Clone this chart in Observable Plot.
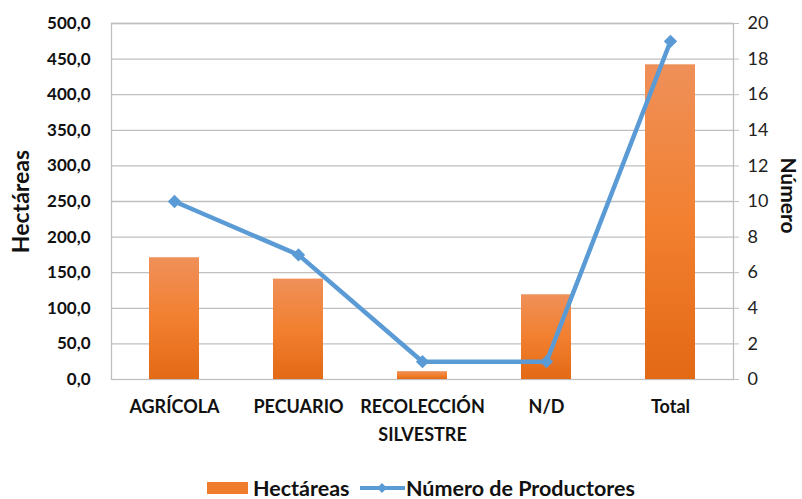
<!DOCTYPE html>
<html>
<head>
<meta charset="utf-8">
<script src="https://cdn.jsdelivr.net/npm/d3@7"></script>
<script src="https://cdn.jsdelivr.net/npm/@observablehq/plot@0.6"></script>
<style>
  html, body { margin: 0; padding: 0; background: #fff; }
  #wrap { position: relative; width: 802px; height: 499px; font-family: Lato, "Open Sans", sans-serif; }
  #legend { position: absolute; left: 0; top: 475px; width: 802px; height: 25px; }
  .item { position: absolute; top: 0; height: 25px; display: flex; align-items: center; font-weight: bold; font-size: 21.5px; color: #111; }
</style>
</head>
<body>
<div id="wrap">
  <div id="chart"></div>
  <div id="legend">
    <div class="item" style="left:207px"><span style="display:inline-block;width:41px;height:12px;background:#F07D2C;margin-right:5px"></span>Hectáreas</div>
    <div class="item" style="left:360px"><svg width="45" height="16" style="margin-right:1px"><line x1="0" y1="8" x2="45" y2="8" stroke="#5B9BD5" stroke-width="4"/><path d="M22,3 L27,8 L22,13 L17,8 Z" fill="#5B9BD5"/></svg>Número de Productores</div>
  </div>
</div>
<script>
const categories = ["AGRÍCOLA", "PECUARIO", "RECOLECCIÓN\nSILVESTRE", "N/D", "Total"];
const hectareas = [171, 141, 11, 119, 442];
const productores = [10, 7, 1, 1, 19];
const leftTicks = [0, 50, 100, 150, 200, 250, 300, 350, 400, 450, 500];
const rightTicks = [0, 2, 4, 6, 8, 10, 12, 14, 16, 18, 20];

const ratio = 500 / 20;
const data = categories.map((c, i) => ({cat: c, ha: hectareas[i], n: productores[i]}));

const chart = Plot.plot({
  width: 802,
  height: 460,
  marginLeft: 111,
  marginRight: 69,
  marginTop: 23,
  marginBottom: 81,
  style: {fontFamily: "Lato, 'Open Sans', sans-serif", background: "#fff"},
  x: {domain: categories, paddingInner: 0.6, paddingOuter: 0.3},
  y: {domain: [0, 500]},
  marks: [
    Plot.gridY(leftTicks.filter(d => d > 0), {stroke: "#BFBFBF", strokeOpacity: 1, strokeWidth: 1.3}),
    Plot.frame({stroke: "#BFBFBF", strokeWidth: 1.3}),
    Plot.barY(data, {x: "cat", y: "ha", fill: "url(#hgrad)"}),
    Plot.line(data, {x: "cat", y: d => d.n * ratio, stroke: "#5B9BD5", strokeWidth: 4.5}),
    Plot.dot(data, {x: "cat", y: d => d.n * ratio, symbol: "diamond2", r: 6, fill: "#5B9BD5", stroke: "none"}),
    Plot.axisY(leftTicks, {anchor: "left", tickSize: 0, tickPadding: 21, fontSize: 17, fontWeight: "bold", fill: "#111",
      tickFormat: d => d.toFixed(1).replace(".", ","), label: null}),
    Plot.axisY(rightTicks.map(d => d * ratio), {anchor: "right", tickSize: 5, tickPadding: 9, fontSize: 18, stroke: "#BFBFBF", fill: "#222",
      tickFormat: d => String(d / ratio), label: null}),
    Plot.axisX({tickSize: 0, tickPadding: 14, fontSize: 18, fontWeight: "bold", fill: "#111", lineHeight: 1.55, label: null}),
    Plot.text(["Hectáreas"], {frameAnchor: "left", dx: -90, rotate: -90, textAnchor: "middle", fontSize: 23, fontWeight: "bold", fill: "#111"}),
    Plot.text(["Número"], {frameAnchor: "right", dx: 54, dy: -6, rotate: 90, textAnchor: "middle", fontSize: 21, fontWeight: "bold", fill: "#111"})
  ]
});

const svg = d3.select(chart);
const grad = svg.insert("defs", ":first-child").append("linearGradient")
  .attr("id", "hgrad").attr("x1", 0).attr("y1", 0).attr("x2", 0).attr("y2", 1);
grad.append("stop").attr("offset", "0%").attr("stop-color", "#EF9059");
grad.append("stop").attr("offset", "50%").attr("stop-color", "#F28030");
grad.append("stop").attr("offset", "100%").attr("stop-color", "#E36915");

document.getElementById("chart").appendChild(chart);
</script>
</body>
</html>
